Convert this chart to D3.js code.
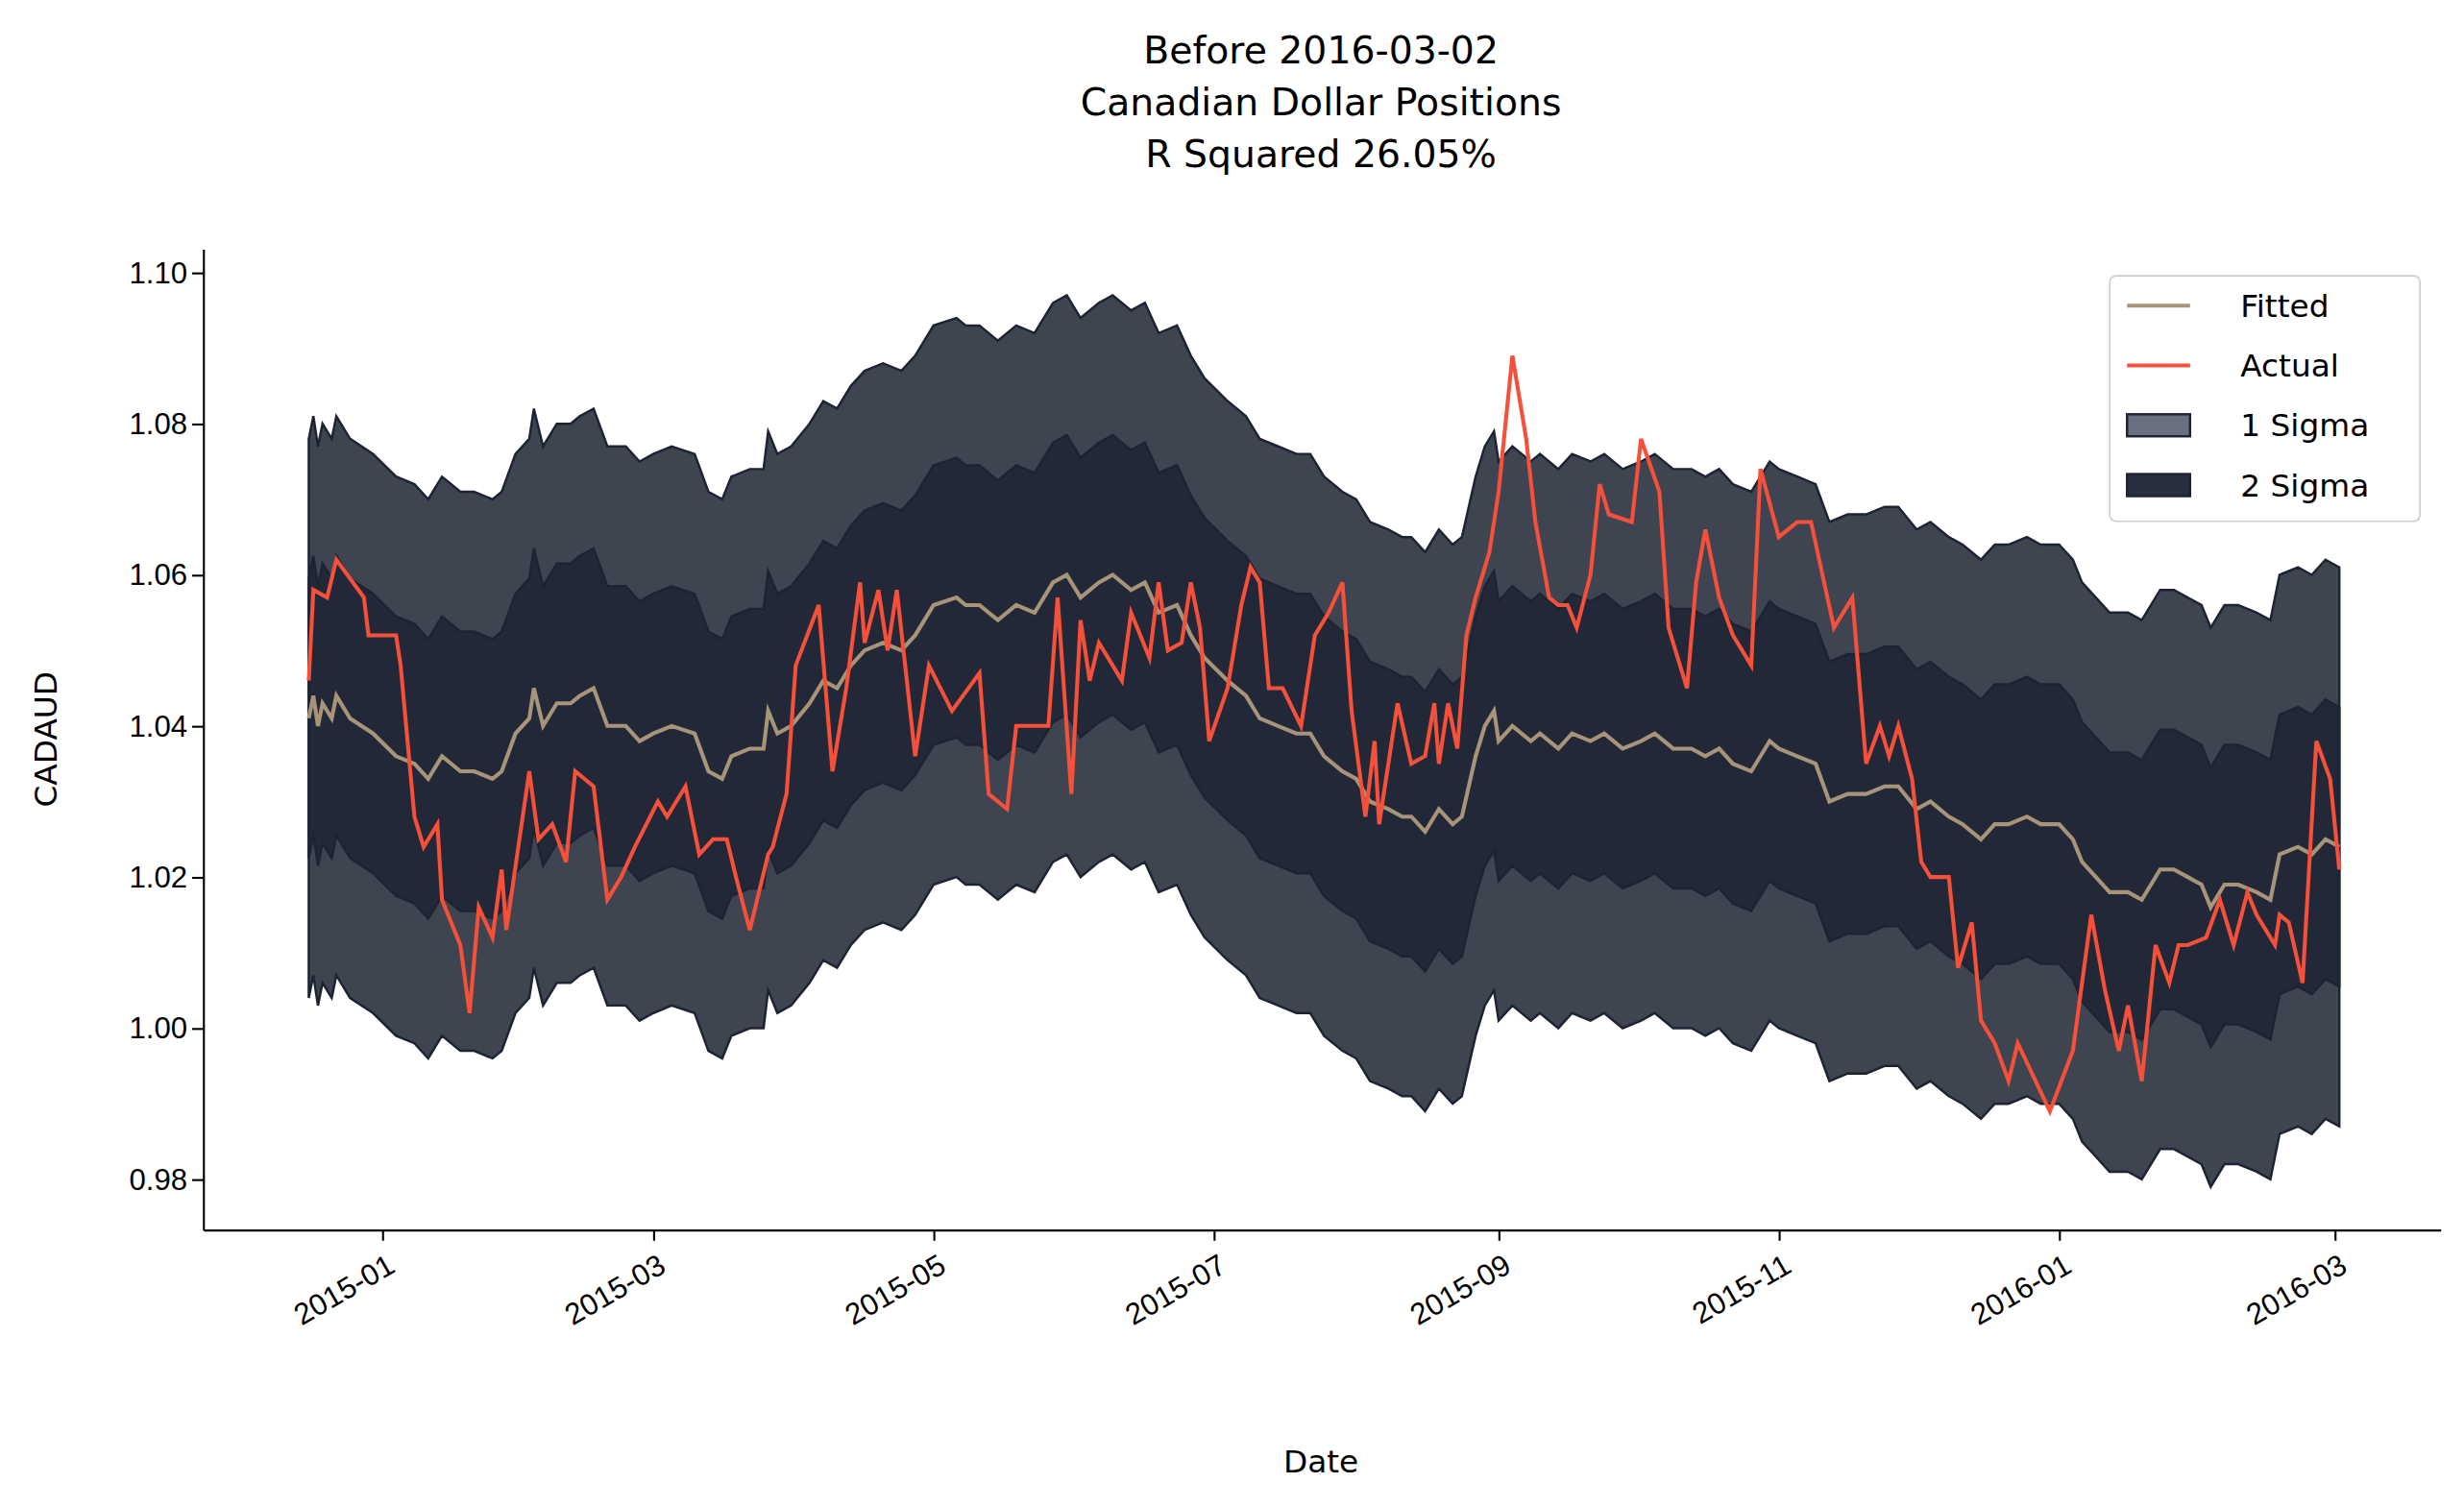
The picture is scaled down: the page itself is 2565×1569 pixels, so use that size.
<!DOCTYPE html>
<html><head><meta charset="utf-8">
<script src="https://cdn.jsdelivr.net/npm/d3@7"></script>
<style>html,body{margin:0;background:#fff;}svg{display:block;}</style>
</head><body><div id="chart"></div>
<script>
// days since 2015-01-01, value
const fittedDays = [-16,-15,-14,-13,-11,-10,-7,-2,3,7,10,13,17,20,24,26,29,32,33,35,38,41,43,46,49,53,56,59,63,68,71,74,76,80,83,84,86,89,93,96,99,102,105,109,113,116,120,125,127,130,134,138,142,146,149,152,156,159,163,166,169,173,176,179,184,188,191,195,199,202,205,209,212,215,219,222,224,227,230,233,235,238,240,242,243,246,250,252,256,259,263,266,270,274,277,281,285,288,291,294,298,302,304,308,312,315,319,323,327,330,334,337,341,344,348,351,354,358,361,365,368,370,373,376,380,383,387,390,393,396,398,401,404,408,411,413,417,420,423,426];
const fittedVals = [1.041,1.044,1.040,1.043,1.041,1.044,1.041,1.039,1.036,1.035,1.033,1.036,1.034,1.034,1.033,1.034,1.039,1.041,1.045,1.040,1.043,1.043,1.044,1.045,1.040,1.040,1.038,1.039,1.040,1.039,1.034,1.033,1.036,1.037,1.037,1.042,1.039,1.040,1.043,1.046,1.045,1.048,1.050,1.051,1.050,1.052,1.056,1.057,1.056,1.056,1.054,1.056,1.055,1.059,1.060,1.057,1.059,1.060,1.058,1.059,1.055,1.056,1.052,1.049,1.046,1.044,1.041,1.040,1.039,1.039,1.036,1.034,1.033,1.030,1.029,1.028,1.028,1.026,1.029,1.027,1.028,1.036,1.040,1.042,1.038,1.040,1.038,1.039,1.037,1.039,1.038,1.039,1.037,1.038,1.039,1.037,1.037,1.036,1.037,1.035,1.034,1.038,1.037,1.036,1.035,1.030,1.031,1.031,1.032,1.032,1.029,1.030,1.028,1.027,1.025,1.027,1.027,1.028,1.027,1.027,1.025,1.022,1.020,1.018,1.018,1.017,1.021,1.021,1.020,1.019,1.016,1.019,1.019,1.018,1.017,1.023,1.024,1.023,1.025,1.024];
const actualDays = [-16,-15,-12,-10,-4,-3,3,4,7,9,12,13,17,19,21,24,26,27,32,34,37,40,42,46,49,52,55,60,62,66,69,72,75,77,80,84,85,88,90,95,98,101,104,105,108,110,112,116,119,124,130,132,136,138,142,145,147,150,152,154,156,161,163,167,169,171,174,176,178,180,184,187,189,191,193,196,200,203,206,209,211,214,216,217,221,224,227,229,230,232,234,236,238,241,243,246,249,251,254,256,258,260,263,265,267,272,274,278,280,284,286,288,291,294,298,300,304,308,311,316,320,323,326,328,330,333,335,337,341,343,346,348,351,354,356,363,368,372,375,378,380,383,386,389,391,393,397,400,403,406,408,412,413,415,418,421,424,426];
const actualVals = [1.046,1.058,1.057,1.062,1.057,1.052,1.052,1.048,1.028,1.024,1.027,1.017,1.011,1.002,1.016,1.012,1.021,1.013,1.034,1.025,1.027,1.022,1.034,1.032,1.017,1.020,1.024,1.030,1.028,1.032,1.023,1.025,1.025,1.020,1.013,1.023,1.024,1.031,1.048,1.056,1.034,1.045,1.059,1.051,1.058,1.050,1.058,1.036,1.048,1.042,1.047,1.031,1.029,1.040,1.040,1.040,1.057,1.031,1.054,1.046,1.051,1.046,1.055,1.049,1.059,1.050,1.051,1.059,1.053,1.038,1.045,1.056,1.061,1.059,1.045,1.045,1.040,1.052,1.055,1.059,1.042,1.028,1.038,1.027,1.043,1.035,1.036,1.043,1.035,1.043,1.037,1.052,1.057,1.063,1.071,1.089,1.078,1.067,1.057,1.056,1.056,1.053,1.060,1.072,1.068,1.067,1.078,1.071,1.053,1.045,1.059,1.066,1.057,1.052,1.048,1.074,1.065,1.067,1.067,1.053,1.057,1.035,1.040,1.036,1.040,1.033,1.022,1.020,1.020,1.008,1.014,1.001,0.998,0.993,0.998,0.989,0.997,1.015,1.005,0.997,1.003,0.993,1.011,1.006,1.011,1.011,1.012,1.017,1.011,1.018,1.015,1.011,1.015,1.014,1.006,1.038,1.033,1.021];
const sigma = 0.0185;
const yTicks = [0.98, 1.00, 1.02, 1.04, 1.06, 1.08, 1.10];
const titleLines = ["Before 2016-03-02", "Canadian Dollar Positions", "R Squared 26.05%"];

const W = 1565, H = 957;
const base = new Date(2015, 0, 1);
const toDate = d => d3.timeDay.offset(base, d);
const fitted = fittedDays.map((d, i) => ({date: toDate(d), v: fittedVals[i]}));
const actual = actualDays.map((d, i) => ({date: toDate(d), v: actualVals[i]}));

const svg = d3.select("#chart").append("svg")
  .attr("width", window.innerWidth).attr("height", window.innerHeight)
  .attr("viewBox", `0 0 ${W} ${H}`)
  .style("font-family", "DejaVu Sans");

const plotL = 129, plotR = 1550, plotT = 158, plotB = 781;
const x = d3.scaleTime().domain([toDate(-38.4), toDate(448.3)]).range([plotL, plotR]);
const y = d3.scaleLinear().domain([0.97333, 1.10313]).range([plotB, plotT]);

const band = k => d3.area().x(d => x(d.date)).y0(d => y(d.v - k * sigma)).y1(d => y(d.v + k * sigma));
svg.append("path").datum(fitted).attr("d", band(2)).attr("fill", "#3f4451").attr("stroke", "#1e2333").attr("stroke-width", 1.5);
svg.append("path").datum(fitted).attr("d", band(1)).attr("fill", "#232839").attr("stroke", "#1e2333").attr("stroke-width", 1.5);

const line = d3.line().x(d => x(d.date)).y(d => y(d.v));
svg.append("path").datum(fitted).attr("d", line).attr("fill", "none").attr("stroke", "#a89478").attr("stroke-width", 2.5);
svg.append("path").datum(actual).attr("d", line).attr("fill", "none").attr("stroke", "#f5503a").attr("stroke-width", 2.5);

// axes
const xAxis = svg.append("g").attr("transform", `translate(0,${plotB})`)
  .call(d3.axisBottom(x).ticks(d3.timeMonth.every(2)).tickFormat(d3.timeFormat("%Y-%m")).tickSize(7).tickSizeOuter(0));
xAxis.selectAll("text").attr("font-size", 19).attr("text-anchor", "end")
  .attr("transform", "rotate(-30)").attr("dx", "-0.3em").attr("dy", "0.9em");
const yAxis = svg.append("g").attr("transform", `translate(${plotL},0)`)
  .call(d3.axisLeft(y).tickValues(yTicks).tickFormat(d3.format(".2f")).tickSize(7).tickSizeOuter(0));
yAxis.selectAll("text").attr("font-size", 19);
svg.selectAll(".domain, .tick line").attr("stroke", "#000").attr("stroke-width", 1.3);
svg.selectAll(".tick text").attr("fill", "#000");

svg.append("text").attr("x", 839).attr("y", 935).attr("text-anchor", "middle").attr("font-size", 20).text("Date");
svg.append("text").attr("transform", `translate(36,${(plotT + plotB) / 2}) rotate(-90)`).attr("text-anchor", "middle").attr("font-size", 20).text("CADAUD");

svg.selectAll(".title").data(titleLines).enter().append("text")
  .attr("x", 839).attr("y", (d, i) => 40 + i * 33).attr("text-anchor", "middle").attr("font-size", 24).text(d => d);

// legend
const lg = svg.append("g").attr("transform", "translate(1340,175)");
lg.append("rect").attr("width", 197).attr("height", 156).attr("rx", 4).attr("fill", "#fff").attr("fill-opacity", 0.85).attr("stroke", "#ccc");
const items = [
  {label: "Fitted", type: "line", color: "#a89478"},
  {label: "Actual", type: "line", color: "#f5503a"},
  {label: "1 Sigma", type: "box", color: "#6b7080"},
  {label: "2 Sigma", type: "box", color: "#2a2f40"}
];
items.forEach((it, i) => {
  const cy = 19 + i * 38;
  if (it.type === "line") lg.append("line").attr("x1", 11).attr("x2", 51).attr("y1", cy).attr("y2", cy).attr("stroke", it.color).attr("stroke-width", 2.5);
  else lg.append("rect").attr("x", 11).attr("y", cy - 7).attr("width", 40).attr("height", 14).attr("fill", it.color).attr("stroke", "#1e2333").attr("stroke-width", 1.5);
  lg.append("text").attr("x", 83).attr("y", cy + 7).attr("font-size", 20).text(it.label);
});
</script></body></html>
